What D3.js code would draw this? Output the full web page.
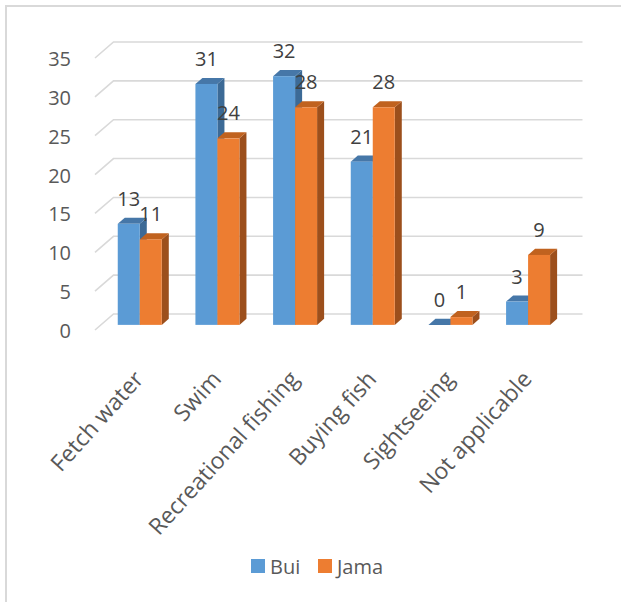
<!DOCTYPE html>
<html>
<head>
<meta charset="utf-8">
<script src="https://cdn.jsdelivr.net/npm/d3@7"></script>
<style>
  body { margin: 0; background: #fff; }
  text { font-family: "Open Sans", Lato, sans-serif; }
</style>
</head>
<body>
<div id="chart"></div>
<script>
// data
const categories = ["Fetch water", "Swim", "Recreational fishing", "Buying fish", "Sightseeing", "Not applicable"];
const bui = [13, 31, 32, 21, 0, 3];
const jama = [11, 24, 28, 28, 1, 9];
const seriesNames = ["Bui", "Jama"];
const yTicks = [0, 5, 10, 15, 20, 25, 30, 35];

const W = 621, H = 602;
const colors = {
  Bui: { front: "#5b9bd5", top: "#4677a8", side: "#3c6a96" },
  Jama: { front: "#ed7d31", top: "#c0621f", side: "#9c4f1c" }
};

// floor depth (front edge -> back wall)
const dxD = 18.5, dyD = -16;
// bars sit inside the floor depth
const bF = 0.32, bB = 0.70;

const svg = d3.select("#chart").append("svg")
  .attr("width", W).attr("height", H);

// outer frame (only top & left show)
svg.append("path")
  .attr("d", "M6," + H + " V6 H" + W)
  .attr("fill", "none").attr("stroke", "#d9d9d9").attr("stroke-width", 2);

// y scale on the front edge of the floor
const y = d3.scaleLinear().domain([0, 35]).range([330, 58]);
const x = d3.scaleBand().domain(categories).range([95, 561]).paddingInner(0).paddingOuter(0);
const barW = 22;
const floorLeft = 95, floorRight = 564;

// gridlines: diagonal on the side + horizontal on back wall
const grid = svg.append("g");
yTicks.forEach(t => {
  grid.append("path")
    .attr("d", "M" + floorLeft + "," + y(t) + " L" + (floorLeft + dxD) + "," + (y(t) + dyD) +
      " H" + (floorRight + dxD))
    .attr("fill", "none").attr("stroke", "#d9d9d9").attr("stroke-width", 1.6);
});

// y tick labels
svg.append("g").selectAll("text")
  .data(yTicks).enter().append("text")
  .attr("x", 71).attr("y", d => y(d) + 8)
  .attr("text-anchor", "end")
  .attr("fill", "#595959").style("font-size", "20px")
  .text(d => d);

// bars
function drawBar(g, x0, v, c) {
  const fx = x0 + bF * dxD, by = y(0) + bF * dyD;
  const ty = by - (y(0) - y(v));
  const ox = (bB - bF) * dxD, oy = (bB - bF) * dyD;
  // side
  g.append("path")
    .attr("d", `M${fx + barW},${by} L${fx + barW + ox},${by + oy} L${fx + barW + ox},${ty + oy} L${fx + barW},${ty} Z`)
    .attr("fill", c.side);
  // top
  g.append("path")
    .attr("d", `M${fx},${ty} L${fx + ox},${ty + oy} L${fx + barW + ox},${ty + oy} L${fx + barW},${ty} Z`)
    .attr("fill", c.top);
  // front
  if (v > 0) {
    g.append("rect")
      .attr("x", fx).attr("y", ty)
      .attr("width", barW).attr("height", by - ty)
      .attr("fill", c.front);
  }
  return { cx: fx + barW / 2, ty: ty };
}

const bars = svg.append("g");
const labels = [];
categories.forEach((cat, i) => {
  const start = x(cat) + (x.bandwidth() - 2 * barW) / 2;
  const a = drawBar(bars, start, bui[i], colors.Bui);
  labels.push({ x: a.cx, y: a.ty - 18, v: bui[i] });
  const b = drawBar(bars, start + barW, jama[i], colors.Jama);
  labels.push({ x: b.cx, y: b.ty - 18, v: jama[i] });
});

// value labels
svg.append("g").selectAll("text")
  .data(labels).enter().append("text")
  .attr("x", d => d.x).attr("y", d => d.y)
  .attr("text-anchor", "middle")
  .attr("fill", "#404040").style("font-size", "20px")
  .text(d => d.v);

// category labels, rotated
svg.append("g").selectAll("text")
  .data(categories).enter().append("text")
  .attr("transform", d => {
    const cx = x(d) + x.bandwidth() / 2 + bF * dxD;
    return "translate(" + (cx + 5) + ",380) rotate(-48)";
  })
  .attr("text-anchor", "end")
  .attr("fill", "#595959").style("font-size", "23px")
  .text(d => d);

// legend
const legend = svg.append("g");
const legX = [251, 318];
seriesNames.forEach((s, i) => {
  legend.append("rect")
    .attr("x", legX[i]).attr("y", 559).attr("width", 14).attr("height", 14)
    .attr("fill", colors[s].front);
  legend.append("text")
    .attr("x", legX[i] + 19).attr("y", 574)
    .attr("fill", "#595959").style("font-size", "20px")
    .text(s);
});
</script>
</body>
</html>
